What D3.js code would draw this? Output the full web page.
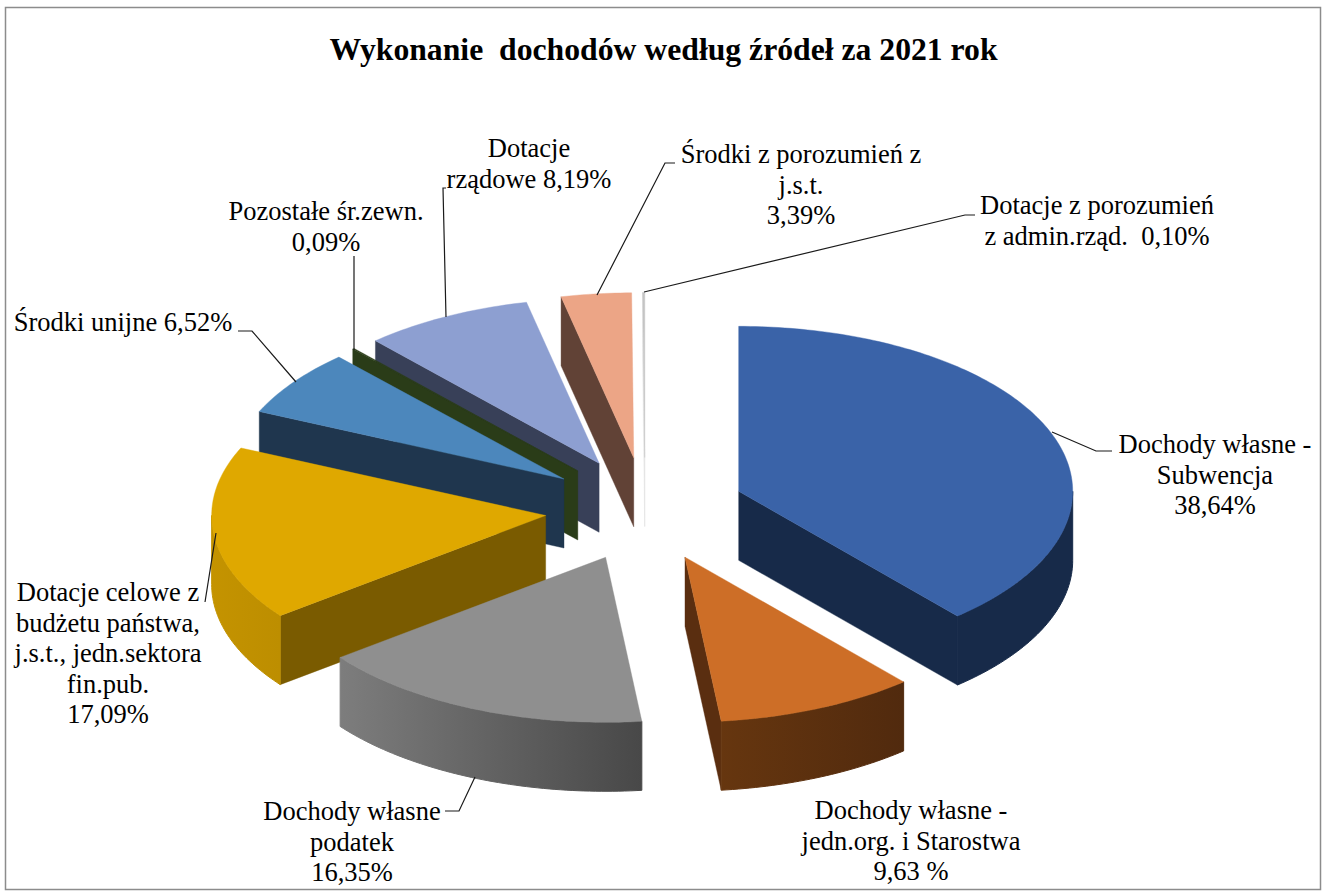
<!DOCTYPE html>
<html><head><meta charset="utf-8">
<script src="https://cdn.jsdelivr.net/npm/d3@7"></script>
<style>html,body{margin:0;padding:0;background:#fff}svg{display:block}text{font-family:"Liberation Serif",serif;fill:#000}</style>
</head><body><div id="c"></div>
<script>
const titleText = "Wykonanie  dochodów według źródeł za 2021 rok";
const categories = ["Dochody własne - Subwencja","Dochody własne - jedn.org. i Starostwa","Dochody własne podatek","Dotacje celowe z budżetu państwa, j.s.t., jedn.sektora fin.pub.","Środki unijne","Pozostałe śr.zewn.","Dotacje rządowe","Środki z porozumień z j.s.t.","Dotacje z porozumień z admin.rząd."];
const values = [38.64,9.63,16.35,17.09,6.52,0.09,8.19,3.39,0.10];
const topColors = ["#3a63a8","#cd6e27","#8f8f8f","#dfa800","#4c87bc","#2a3c18","#8d9fd1","#eca586","#c4c4c4"];
const cutColors = ["#172a49","#5a2e10","#555555","#7a5b00","#1f364e","#2a3c18","#384058","#614236","#e4e4e4"];
const wallLeft  = ["#172a49","#66360f","#7d7d7d","#c49300","#1f364e","#2a3c18","#384058","#614236","#e4e4e4"];
const wallRight = ["#172a49","#512a0e","#484848","#bd8e00","#1f364e","#2a3c18","#384058","#614236","#e4e4e4"];
const labelLines = [
 ["Dochody własne -","Subwencja","38,64%"],
 ["Dochody własne -","jedn.org. i Starostwa","9,63 %"],
 ["Dochody własne","podatek","16,35%"],
 ["Dotacje celowe z","budżetu państwa,","j.s.t., jedn.sektora","fin.pub.","17,09%"],
 ["Środki unijne 6,52%"],
 ["Pozostałe śr.zewn.","0,09%"],
 ["Dotacje","rządowe 8,19%"],
 ["Środki z porozumień z","j.s.t.","3,39%"],
 ["Dotacje z porozumień","z admin.rząd.  0,10%"]
];
// annotation layout: label centre x, first baseline
const labelAnchors = [[1215,453],[911,819],[352,820],[108,601],[123,331],[326,220],[529,157],[801,163],[1097,214]];
const leaderPaths = [
 [[1052,432],[1096,451],[1112,451]],
 [],
 [[475,777],[459,811],[445,811]],
 [[216,533],[205,602]],
 [[296,382],[252,331],[238,331]],
 [[354,350],[354,256]],
 [[446,317],[443,188],[446,188]],
 [[597,295],[665,163],[675,163]],
 [[644,292],[965,215],[975,215]]
];
const W=1323,H=891, cx=645, cy=509.5, rx=334, ry=165, depth=69, explodeX=100, explodeY=52, fontSize=26.5, lineGap=30.5;

const svg=d3.select("#c").append("svg").attr("width",W).attr("height",H);
const defs=svg.append("defs");
svg.append("rect").attr("x",5.5).attr("y",7.5).attr("width",1315).attr("height",882).attr("fill","#fff").attr("stroke","#8c8c8c").attr("stroke-width",1.5);

const sx=d3.scaleLinear().domain([-1,1]).range([-rx,rx]);
const sy=d3.scaleLinear().domain([-1,1]).range([-ry,ry]);
const pie=d3.pie().sort(null).startAngle(0).endAngle(2*Math.PI);
const arcs=pie(values).map((a,i)=>({...a,i,mid:(a.startAngle+a.endAngle)/2}));
const line=d3.line();
const P=(a,ox,oy,dz=0)=>[ox+sx(Math.sin(a)), oy-sy(Math.cos(a))+dz];
const sample=(a0,a1,ox,oy,dz)=>{const n=Math.max(2,Math.ceil((a1-a0)/(Math.PI/180)));return d3.range(n+1).map(k=>P(a0+(a1-a0)*k/n,ox,oy,dz));};

const order=arcs.slice().sort((p,q)=>(-Math.cos(p.mid))-(-Math.cos(q.mid)));
const g=svg.append("g");
order.forEach(d=>{
  const i=d.i, ox=cx+explodeX*Math.sin(d.mid), oy=cy-explodeY*Math.cos(d.mid);
  const s=g.append("g").attr("class","slice").datum(d);
  const wall=(a)=>{const o=[ox,oy],p=P(a,ox,oy);
    s.append("path").attr("d",line([o,p,[p[0],p[1]+depth],[o[0],o[1]+depth]])+"Z").attr("fill",cutColors[i]).attr("stroke",cutColors[i]).attr("stroke-width",.4);};
  if(Math.sin(d.startAngle)<0) wall(d.startAngle);
  if(Math.sin(d.endAngle)>0) wall(d.endAngle);
  const a0=Math.max(d.startAngle,Math.PI/2), a1=Math.min(d.endAngle,3*Math.PI/2);
  if(a1>a0){
    const topE=sample(a0,a1,ox,oy,0), botE=sample(a0,a1,ox,oy,depth).reverse();
    const xs=topE.map(p=>p[0]);
    const id="w"+i;
    const lg=defs.append("linearGradient").attr("id",id).attr("gradientUnits","userSpaceOnUse")
      .attr("x1",d3.min(xs)).attr("x2",d3.max(xs)).attr("y1",0).attr("y2",0);
    lg.append("stop").attr("offset",0).attr("stop-color",wallLeft[i]);
    lg.append("stop").attr("offset",1).attr("stop-color",wallRight[i]);
    s.append("path").attr("d",line(topE.concat(botE))+"Z").attr("fill",`url(#${id})`).attr("stroke",`url(#${id})`).attr("stroke-width",1);
  }
  const face=[[ox,oy]].concat(sample(d.startAngle,d.endAngle,ox,oy,0));
  s.append("path").attr("d",line(face)+"Z").attr("fill",topColors[i]).attr("stroke",topColors[i]).attr("stroke-width",.4);
});

const lg=svg.append("g").attr("fill","none").attr("stroke","#1a1a1a").attr("stroke-width",1.2);
leaderPaths.filter(p=>p.length).forEach(p=>lg.append("path").attr("d",line(p)));

const tg=svg.append("g").attr("font-size",fontSize).attr("text-anchor","middle");
labelLines.forEach((ls,i)=>{
  const t=tg.append("text").style("white-space","pre");
  ls.forEach((l,k)=>t.append("tspan").attr("x",labelAnchors[i][0]).attr("y",labelAnchors[i][1]+k*lineGap).text(l));
});
svg.append("text").attr("x",663.5).attr("y",60).attr("text-anchor","middle").attr("font-size",31.7).attr("font-weight","bold").style("white-space","pre").text(titleText);
</script></body></html>
